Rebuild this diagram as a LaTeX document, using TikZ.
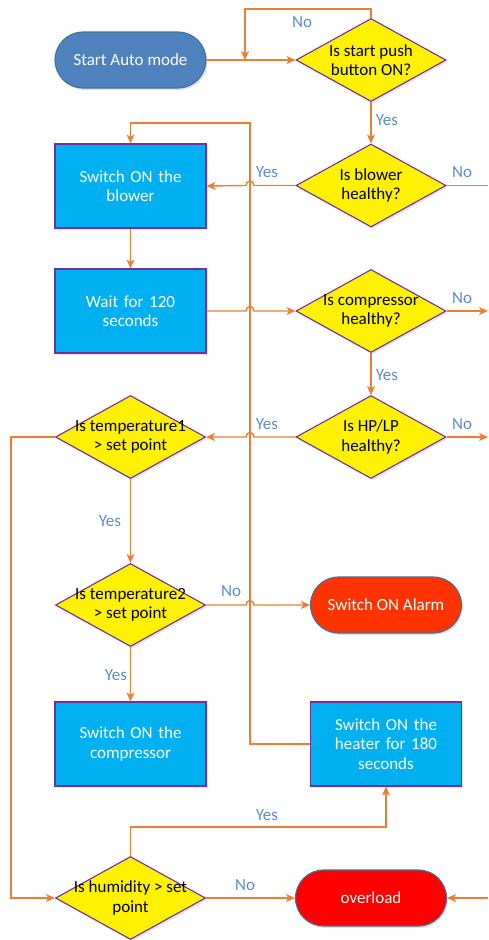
\documentclass[tikz,border=0pt]{standalone}
\usepackage{fontspec}
\setmainfont{Carlito}
\usetikzlibrary{shapes.geometric,arrows.meta,shadows}
\definecolor{lineor}{HTML}{ED7D31}
\definecolor{boxblue}{HTML}{00B0F0}
\definecolor{edgepurple}{HTML}{7030A0}
\definecolor{startblue}{HTML}{4F81BD}
\definecolor{startedge}{HTML}{41719C}
\definecolor{alarmred}{HTML}{FF3300}
\definecolor{overred}{HTML}{FF0000}
\definecolor{labblue}{HTML}{5B8CC8}
\begin{document}
\begin{tikzpicture}[x=1pt,y=-1pt,
  txt/.style={font=\fontsize{17}{19.5}\selectfont, align=center},
  shade/.style={drop shadow={opacity=0.22, shadow xshift=1.5pt, shadow yshift=-2pt}},
  procbox/.style={txt, shade, rectangle, draw=edgepurple, line width=1.1pt, fill=boxblue, text=white,
    minimum width=151pt, minimum height=84pt, text width=140pt, inner sep=0pt},
  dia/.style={shade, diamond, draw=edgepurple, line width=1.1pt, fill=yellow,
    minimum width=150pt, minimum height=83pt, inner sep=0pt},
  dtext/.style={txt, text=black, inner sep=0pt},
  stadium/.style={txt, shade, rectangle, rounded corners=28pt, draw=startedge, line width=1.1pt, text=white,
    minimum width=151pt, minimum height=56pt, inner sep=0pt},
  conn/.style={draw=lineor, line width=1.4pt},
  arr/.style={conn, -{Stealth[length=9pt,width=8pt,inset=2.5pt]}},
  lab/.style={font=\fontsize{17}{19}\selectfont, text=labblue, inner sep=0pt}
]
\useasboundingbox (0,0) rectangle (488,940);

% nodes
\node[stadium, fill=startblue] (start) at (130.5,60) {Start Auto mode};
\node[dia] (d1) at (371,60) {};
\node[dtext] (d1t) at (d1) {Is start push\\button ON?};
\node[dia] (d2) at (371,185.5) {};
\node[dtext] (d2t) at (d2) {Is blower\\healthy?};
\node[procbox] (b1) at (130.5,186) {Switch ON the\\blower};
\node[procbox] (b2) at (130.5,311) {Wait for 120\\seconds};
\node[dia] (d3) at (371,311) {};
\node[dtext] (d3t) at (d3) {Is compressor\\healthy?};
\node[dia] (d4) at (371,437) {};
\node[dtext] (d4t) at (d4) {Is HP/LP\\healthy?};
\node[dia] (d5) at (130.5,437) {};
\node[dtext] (d5t) at (d5) {Is temperature1\\> set point};
\node[dia] (d6) at (130.5,605) {};
\node[dtext] (d6t) at (d6) {Is temperature2\\> set point};
\node[stadium, fill=alarmred] (alarm) at (386,605) {Switch ON Alarm};
\node[procbox] (b3) at (130.5,744) {Switch ON the\\compressor};
\node[procbox] (heat) at (386,744) {Switch ON the\\heater for 180\\seconds};
\node[dia] (d7) at (130.5,898) {};
\node[dtext] (d7t) at (d7) {Is humidity > set\\point};
\node[stadium, fill=overred] (over) at (371,898) {overload};

% free ends
\coordinate (j1) at (245,60);
\coordinate (e2) at (488,185.5);
\coordinate (e3) at (488,311);
\coordinate (e4) at (488,437);
\coordinate (e7) at (488,898);

% connectors
\draw[arr] (start) -- (d1);
\draw[arr] (d1.north) -- (371,9) -| (j1);
\draw[arr] (d1) -- (d2);
\draw[arr] (d2.west) -- (254,185.5) .. controls (254,179.5) and (246,179.5) .. (246,185.5) -- (b1.east);
\draw[conn] (d2.east) -- (e2);
\draw[arr] (heat.west) -- (250,744) -- (250,123) -| (b1.north);
\draw[arr] (b1) -- (b2);
\draw[arr] (b2.east) -- (246,311) .. controls (246,305) and (254,305) .. (254,311) -- (d3.west);
\draw[arr] (d3.east) -- (e3);
\draw[arr] (d3) -- (d4);
\draw[arr] (d4.east) -- (e4);
\draw[arr] (d4.west) -- (254,437) .. controls (254,431) and (246,431) .. (246,437) -- (d5.east);
\draw[arr] (d5.west) -- (11,437) |- (d7.west);
\draw[arr] (d5) -- (d6);
\draw[arr] (d6.east) -- (246,605) .. controls (246,599) and (254,599) .. (254,605) -- (alarm.west);
\draw[arr] (d6) -- (b3);
\draw[arr] (d7.north) -- (130.5,827) -| (heat.south);
\draw[arr] (d7) -- (over);
\draw[arr] (e7) -- (over.east);

% labels
\node[lab] (l1) at (302,22) {No};
\node[lab] (l2) at (387,120) {Yes};
\node[lab] (l3) at (267,172) {Yes};
\node[lab] (l4) at (462,172) {No};
\node[lab] (l5) at (462,298) {No};
\node[lab] (l6) at (387,375) {Yes};
\node[lab] (l7) at (267,424) {Yes};
\node[lab] (l8) at (462,424) {No};
\node[lab] (l9) at (110,521) {Yes};
\node[lab] (l10) at (231,591) {No};
\node[lab] (l11) at (116,675) {Yes};
\node[lab] (l12) at (267,815) {Yes};
\node[lab] (l13) at (245,885) {No};
\end{tikzpicture}
\end{document}
